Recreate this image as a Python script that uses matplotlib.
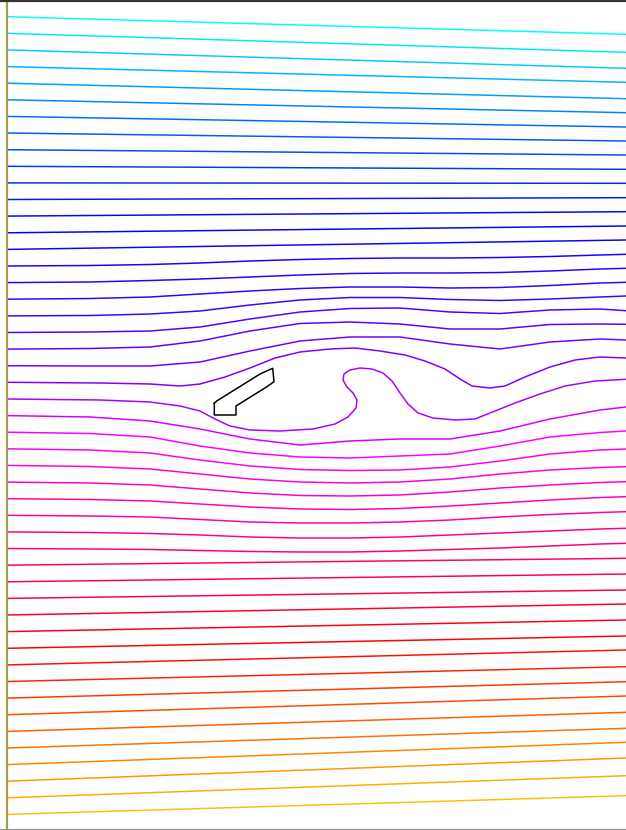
import numpy as np
import matplotlib
matplotlib.use("Agg")
import matplotlib.pyplot as plt
from matplotlib.colors import hsv_to_rgb

W, H = 626, 830

# streamline heights where they enter (left edge) and leave (right edge)
inflow_y = [16.7, 33.3, 49.9, 66.6, 83.2, 99.8, 116.4, 133.0, 149.7, 166.3,
            182.9, 199.5, 216.1, 232.8, 249.4, 266.0, 282.6, 299.2, 315.9, 332.5,
            349.1, 365.7, 382.3, 399.0, 415.6, 432.2, 448.8, 465.4, 482.1, 498.7,
            515.3, 531.9, 548.5, 565.2, 581.8, 598.4, 615.0, 631.6, 648.3, 664.9,
            681.5, 698.1, 714.7, 731.4, 748.0, 764.6, 781.2, 797.8, 814.4]
outflow_y = [34.3, 52.3, 68.3, 82.3, 98.7, 112.7, 127.0, 141.0, 155.0, 169.3,
             183.3, 197.7, 211.7, 226.0, 240.0, 254.3, 268.3, 282.3, 296.0, 310.7,
             324.3, 340.0, 358.0, 379.3, 407.0, 431.0, 449.0, 466.7, 481.7, 496.7,
             511.7, 528.3, 543.3, 558.3, 574.0, 590.0, 604.0, 620.0, 636.0, 650.0,
             666.7, 681.7, 696.0, 712.3, 728.3, 742.3, 758.0, 775.7, 795.7]
x_in, x_out = 7, 626

# streamlines deflected by the body, sampled at fixed stations
knot_x = [7, 90, 150, 200, 250, 300, 350, 400, 450, 500, 550, 600, 626]
bowed_index = [15, 16, 17, 18, 19, 20, 21, 24, 25, 26, 27, 28, 29, 30, 31, 32]
bowed_y = [
    [266.0, 265.5, 264.5, 263.0, 261.0, 259.5, 258.5, 258.0, 258.0, 257.5, 256.5, 255.0, 254.3],
    [282.6, 282.0, 280.5, 279.0, 277.0, 275.0, 273.5, 273.0, 273.0, 272.5, 271.0, 269.0, 268.3],
    [299.2, 298.5, 297.0, 294.0, 291.0, 288.5, 287.0, 287.0, 288.0, 287.5, 285.5, 283.0, 282.3],
    [315.9, 315.5, 314.0, 311.0, 305.0, 300.0, 297.5, 297.5, 299.5, 300.5, 299.0, 297.0, 296.0],
    [332.5, 332.0, 331.0, 327.0, 319.0, 312.0, 308.5, 308.0, 312.0, 313.5, 310.0, 309.0, 310.7],
    [349.1, 348.5, 347.0, 341.0, 331.0, 323.5, 322.0, 324.0, 329.0, 329.0, 324.5, 324.0, 324.3],
    [365.7, 366.0, 366.0, 362.0, 351.0, 341.0, 337.0, 337.0, 344.0, 349.0, 342.0, 339.0, 340.0],
    [415.6, 417.0, 421.0, 429.0, 439.0, 445.0, 441.0, 439.0, 439.0, 431.0, 419.0, 410.0, 407.0],
    [432.2, 433.5, 437.0, 446.0, 453.0, 457.0, 458.0, 456.0, 454.0, 446.0, 437.0, 432.5, 431.0],
    [448.8, 450.0, 453.0, 460.0, 466.0, 469.5, 470.5, 470.0, 467.0, 461.0, 454.0, 450.0, 449.0],
    [465.4, 466.5, 469.0, 474.0, 479.0, 482.0, 483.0, 482.0, 479.0, 474.0, 470.0, 467.5, 466.7],
    [482.1, 483.0, 485.0, 489.0, 493.0, 495.5, 496.0, 495.0, 492.0, 488.0, 485.0, 482.5, 481.7],
    [498.7, 499.5, 501.0, 504.0, 507.0, 509.0, 509.5, 508.5, 506.0, 503.0, 500.0, 497.5, 496.7],
    [515.3, 516.0, 517.0, 519.5, 522.0, 523.0, 523.0, 522.0, 520.0, 517.0, 514.5, 512.5, 511.7],
    [531.9, 532.5, 533.5, 535.0, 537.0, 538.0, 538.0, 537.0, 535.0, 533.0, 531.0, 529.0, 528.3],
    [548.5, 549.0, 549.5, 550.5, 551.5, 552.0, 552.0, 551.0, 549.5, 548.0, 546.0, 544.0, 543.3],
]

# line passing over the body
over_x = [7, 100, 150, 180, 200, 225, 250, 275, 300, 330, 355, 380, 405, 425, 445,
          460, 472, 490, 505, 525, 550, 575, 600, 626]
over_y = [382.3, 383, 384, 386, 384, 377, 368, 358, 352, 349, 348, 351, 355, 361, 369,
          379, 386, 388, 386, 377, 367, 360, 357, 358]

# line passing under the body and rolling up into the wake
curl_x = [7, 100, 150, 180, 200, 215, 230, 250, 280, 313, 335, 348, 356, 357, 353, 347,
          343, 344, 350, 360, 372, 383, 392, 400, 408, 418, 433, 455, 475, 495, 515,
          540, 565, 595, 626]
curl_y = [399.0, 400, 402, 406, 411, 419, 426, 430, 431, 429, 424, 417, 408, 400, 393, 387,
          380, 374, 370, 368, 369, 373, 381, 393, 404, 413, 418, 420, 419, 411, 403,
          394, 386, 381, 379.3]

# body outline
body_x = [214.3, 214.3, 236, 236, 266, 274, 272.7, 260, 216.7, 214.3]
body_y = [403.3, 415, 415, 406, 387.3, 381.7, 368.3, 374, 401, 403.3]

# hue (degrees) along the stack of streamlines, top to bottom
hue_at_line = [0, 6, 12, 18, 22, 25, 30, 48]
hue_deg = [180, 215, 238, 255, 270, 300, 322, 405]

n_lines = len(inflow_y)


def line_color(i):
    hue = np.interp(i, hue_at_line, hue_deg) / 360 % 1.0
    return hsv_to_rgb((hue, 1.0, 1.0))


fig = plt.figure(figsize=(W / 100, H / 100), dpi=100)
ax = fig.add_axes([0, 0, 1, 1])
ax.set_xlim(0, W)
ax.set_ylim(H, 0)
ax.axis("off")

lw = 1.5 * 72 / 100
for i in range(n_lines):
    c = line_color(i)
    if i in bowed_index:
        ax.plot(knot_x, bowed_y[bowed_index.index(i)], color=c, lw=lw)
    elif i == 22:
        ax.plot(over_x, over_y, color=c, lw=lw)
    elif i == 23:
        ax.plot(curl_x, curl_y, color=c, lw=lw)
    else:
        ax.plot([x_in, x_out], [inflow_y[i], outflow_y[i]], color=c, lw=lw)

ax.plot(body_x, body_y, color="black", lw=lw)

# window frame
ax.plot([6.5, 6.5], [0, H], color="#a39c4f", lw=2.2 * 72 / 100)
ax.plot([0, W], [1.2, 1.2], color="#333333", lw=2.2 * 72 / 100)
ax.plot([0, W], [828.5, 828.5], color="#999999", lw=1.2 * 72 / 100)

fig.savefig("out.png", dpi=100)
